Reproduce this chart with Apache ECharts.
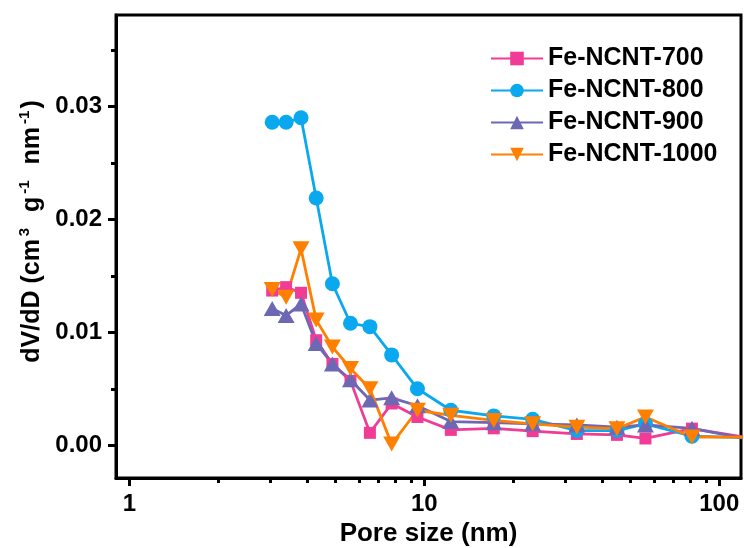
<!DOCTYPE html>
<html>
<head>
<meta charset="utf-8">
<script src="https://cdn.jsdelivr.net/npm/echarts@6/dist/echarts.min.js"></script>
<style>html,body{margin:0;padding:0;background:#fff;}#c{width:744px;height:548px;}</style>
</head>
<body>
<div id="c"></div>
<script>
// Pore size (nm) of the data points
const poreSize = [3.05, 3.40, 3.82, 4.30, 4.88, 5.62, 6.54, 7.75, 9.48, 12.3, 17.2, 23.3, 32.9, 45.0, 56.2, 80.8, 160];
const fe700  = [0.0137, 0.0140, 0.0135, 0.0093, 0.0072, 0.0057, 0.0011, 0.0037, 0.0025, 0.00136, 0.0015, 0.00125, 0.0010, 0.00092, 0.0006, 0.00147, 0.0002];
const fe800  = [0.0286, 0.0286, 0.0290, 0.0219, 0.0143, 0.0108, 0.0105, 0.0080, 0.0050, 0.0031, 0.0026, 0.0023, 0.0013, 0.0013, 0.0019, 0.0008, 0.0006];
const fe900  = [0.0121, 0.0115, 0.0125, 0.0090, 0.0072, 0.0058, 0.0040, 0.0042, 0.0035, 0.0021, 0.0020, 0.0019, 0.0018, 0.0016, 0.0018, 0.0015, 0.0000];
const fe1000 = [0.0138, 0.0131, 0.0174, 0.0111, 0.0087, 0.0068, 0.0050, 0.0001, 0.0031, 0.00265, 0.0022, 0.0019, 0.0016, 0.00147, 0.0025, 0.00073, 0.0007];
const seriesNames = ['Fe-NCNT-700', 'Fe-NCNT-800', 'Fe-NCNT-900', 'Fe-NCNT-1000'];

const xMajorTicks = [1, 10, 100];
const xMinorTicks = [2, 3, 4, 5, 6, 7, 8, 9, 20, 30, 40, 50, 60, 70, 80, 90];
const yMajorTicks = [0, 0.01, 0.02, 0.03];
const yMinorTicks = [0.005, 0.015, 0.025, 0.035];

const FONT = '"Liberation Sans", Arial, Helvetica, sans-serif';
const xMin = 0.901, xMax = 118.5, yMin = -0.0029, yMax = 0.0381;

function pairs(ys) { return poreSize.map((x, i) => [x, ys[i]]); }

const chart = echarts.init(document.getElementById('c'), null, {renderer: 'canvas'});
const mk = (name, ys, color, symbol, size, rot) => ({
  name, type: 'line', data: pairs(ys), xAxisIndex: 0, yAxisIndex: 0,
  symbol, symbolSize: size, symbolRotate: rot || 0, showSymbol: true,
  lineStyle: {color, width: 2.8}, itemStyle: {color},
  clip: true, animation: false, z: 3
});

const tickAxisX = (vals, len) => ({
  type: 'log', min: xMin, max: xMax, position: 'bottom',
  axisLine: {show: false, onZero: false},
  axisTick: {show: true, inside: false, length: len, lineStyle: {color: '#000', width: 3}, customValues: vals},
  axisLabel: {show: false}, splitLine: {show: false}
});
const tickAxisY = (vals, len) => ({
  type: 'value', min: yMin, max: yMax, position: 'left',
  axisLine: {show: false, onZero: false},
  axisTick: {show: true, inside: false, length: len, lineStyle: {color: '#000', width: 3}, customValues: vals},
  axisLabel: {show: false}, splitLine: {show: false}
});

chart.setOption({
  animation: false,
  backgroundColor: '#fff',
  grid: {left: 116, right: 3, top: 15, bottom: 70, show: true, borderColor: '#000', borderWidth: 3,
    containLabel: false, outerBoundsMode: 'none'},
  legend: {
    orient: 'vertical', left: 490, top: 46, padding: 0, itemWidth: 52, itemHeight: 17, itemGap: 7,
    textStyle: {fontFamily: FONT, fontWeight: 'bold', fontSize: 25, color: '#000', lineHeight: 24},
    data: seriesNames
  },
  xAxis: [
    {
      type: 'log', min: xMin, max: xMax, position: 'bottom',
      name: 'Pore size (nm)', nameLocation: 'middle', nameGap: 38,
      nameTextStyle: {fontFamily: FONT, fontWeight: 'bold', fontSize: 26, color: '#000'},
      axisLine: {show: true, onZero: false, lineStyle: {color: '#000', width: 3}},
      axisTick: {show: false},
      axisLabel: {show: true, margin: 14, fontFamily: FONT, fontWeight: 'bold', fontSize: 24, color: '#000', customValues: xMajorTicks,
        formatter: v => String(Math.round(v))},
      splitLine: {show: false}, minorTick: {show: false}
    },
    tickAxisX(xMajorTicks, 8),
    tickAxisX(xMinorTicks, 5)
  ],
  yAxis: [
    {
      type: 'value', min: yMin, max: yMax, position: 'left',
      name: '{a|dV/dD (cm}{s|3}{a|  g}{s|-1}{a|  nm}{s|-1}{a|)}',
      nameLocation: 'middle', nameGap: 58, nameRotate: 90,
      nameTextStyle: {
        color: '#000', padding: [0, 0, 0, 30],
        rich: {
          a: {fontFamily: FONT, fontWeight: 'bold', fontSize: 25, color: '#000', lineHeight: 30, verticalAlign: 'middle'},
          s: {fontFamily: FONT, fontWeight: 'bold', fontSize: 15, color: '#000', lineHeight: 14, verticalAlign: 'top', padding: [0, 2, 0, 3]}
        }
      },
      axisLine: {show: true, onZero: false, lineStyle: {color: '#000', width: 3}},
      axisTick: {show: false},
      axisLabel: {show: true, margin: 14, fontFamily: FONT, fontWeight: 'bold', fontSize: 24, color: '#000', customValues: yMajorTicks,
        formatter: v => v.toFixed(2)},
      splitLine: {show: false}
    },
    tickAxisY(yMajorTicks, 8),
    tickAxisY(yMinorTicks, 5)
  ],
  series: [
    mk(seriesNames[0], fe700, '#F03C96', 'rect', 12),
    mk(seriesNames[1], fe800, '#0AA8EE', 'circle', 15),
    mk(seriesNames[2], fe900, '#6C68B4', 'triangle', [17, 15]),
    mk(seriesNames[3], fe1000, '#FF8000', 'triangle', [17, 15], 180)
  ]
});
</script>
</body>
</html>
